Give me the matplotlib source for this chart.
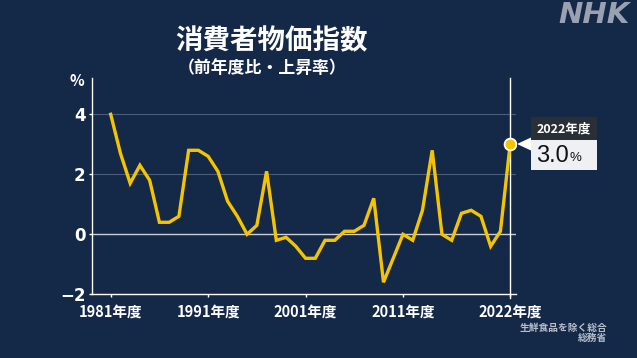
import numpy as np
import matplotlib
matplotlib.use('Agg')
import matplotlib.pyplot as plt
from matplotlib.patches import Rectangle, Polygon

plt.rcParams['font.family'] = ['Noto Sans CJK JP', 'DejaVu Sans']

# consumer price index (ex. fresh food), fiscal year change %
years = list(range(1981, 2023))
cpi = [4.0, 2.7, 1.7, 2.3, 1.8, 0.4, 0.4, 0.6, 2.8, 2.8,
       2.6, 2.1, 1.1, 0.6, 0.0, 0.3, 2.1, -0.2, -0.1, -0.4,
       -0.8, -0.8, -0.2, -0.2, 0.1, 0.1, 0.3, 1.2, -1.6, -0.8,
       0.0, -0.2, 0.8, 2.8, 0.0, -0.2, 0.7, 0.8, 0.6, -0.4,
       0.1, 3.0]
tick_years = [1981, 1991, 2001, 2011, 2022]
tick_labels = ['1981年度', '1991年度', '2001年度', '2011年度', '2022年度']
yticks = [-2, 0, 2, 4]

bg = '#142848'
yellow = '#f5c400'
W, H = 637, 358

fig = plt.figure(figsize=(6.37, 3.58), dpi=100)
fig.patch.set_facecolor(bg)
ax = fig.add_axes([91.7 / W, 1 - 294.3 / H, (516 - 91.7) / W, (294.3 - 78) / H])
ax.set_facecolor(bg)

ax.set_xlim(1979.05, 2022.6)
ax.set_ylim(-2, 5.21)

# gridlines
for v in [2, 4]:
    ax.axhline(v, color='#4c5d7c', lw=0.8, zorder=1)
ax.axhline(0, color='#c9ced8', lw=1.0, zorder=1)
ax.axvline(2022, ymin=-0.018, ymax=1, color='white', lw=1.0, clip_on=False, zorder=2)

ax.plot(years, cpi, color=yellow, lw=2.4, solid_joinstyle='miter', zorder=3)
ax.plot(years[-1], cpi[-1], 'o', ms=8.5, color=yellow, mec='white', mew=1.3, zorder=4)

for s in ['top', 'right']:
    ax.spines[s].set_visible(False)
for s in ['left', 'bottom']:
    ax.spines[s].set_color('white')
    ax.spines[s].set_linewidth(1.0)

ax.set_yticks(yticks)
ax.set_yticklabels([str(v).replace('-', '\u2212') for v in yticks], fontsize=12,
                   fontweight='bold', color='white', family=['DejaVu Sans'])
ax.set_xticks(tick_years)
ax.set_xticklabels(tick_labels, fontsize=10.5, fontweight='bold', color='white')
ax.tick_params(axis='both', colors='white', length=2.5, width=1.0)
ax.tick_params(axis='y', pad=2)
ax.tick_params(axis='x', pad=4)

fig.text(77 / W, 1 - 81 / H, '%', ha='center', va='center', fontsize=11,
         fontweight='bold', color='white')

# titles
fig.text(271 / W, 1 - 41 / H, '消費者物価指数', ha='center', va='center',
         fontsize=19.8, fontweight='bold', color='white')
fig.text(262 / W, 1 - 68 / H, '（前年度比・上昇率）', ha='center', va='center',
         fontsize=12.2, fontweight='bold', color='white')

# callout box
fig.patches.append(Rectangle((530.5 / W, 1 - 140 / H), 66 / W, 23 / H,
                             transform=fig.transFigure, facecolor='#2a2f37',
                             edgecolor='none', zorder=5))
fig.patches.append(Rectangle((530.5 / W, 1 - 169.5 / H), 66 / W, 29.5 / H,
                             transform=fig.transFigure, facecolor='#eef0f3',
                             edgecolor='none', zorder=5))
fig.patches.append(Polygon([(517 / W, 1 - 144 / H), (531 / W, 1 - 137.5 / H),
                            (531 / W, 1 - 150.5 / H)], closed=True,
                           transform=fig.transFigure, facecolor='white',
                           edgecolor='none', zorder=5))
fig.text(563.5 / W, 1 - 129 / H, '2022年度', ha='center', va='center',
         fontsize=9, fontweight='bold', color='white', zorder=6)
fig.text(536 / W, 1 - 156 / H, '%.1f' % cpi[-1], ha='left', va='center',
         fontsize=17, family=['Liberation Sans', 'DejaVu Sans'], color='#111111', zorder=6)
fig.text(570 / W, 1 - 158.5 / H, '%', ha='left', va='center',
         fontsize=9.5, family=['Liberation Sans', 'DejaVu Sans'], color='#111111', zorder=6)

# logo and source
fig.text(630 / W, 1 - 15 / H, 'NHK', ha='right', va='center', fontsize=21,
         fontweight='bold', fontstyle='italic', family=['DejaVu Sans'], color='#9aa2b2')
fig.text(607 / W, 1 - 327.5 / H, '生鮮食品を除く総合', ha='right', va='center',
         fontsize=7, fontweight='bold', color='#b8bfcb')
fig.text(607 / W, 1 - 338 / H, '総務省', ha='right', va='center',
         fontsize=7, fontweight='bold', color='#b8bfcb')

fig.savefig('out.png', dpi=100, facecolor=bg)
